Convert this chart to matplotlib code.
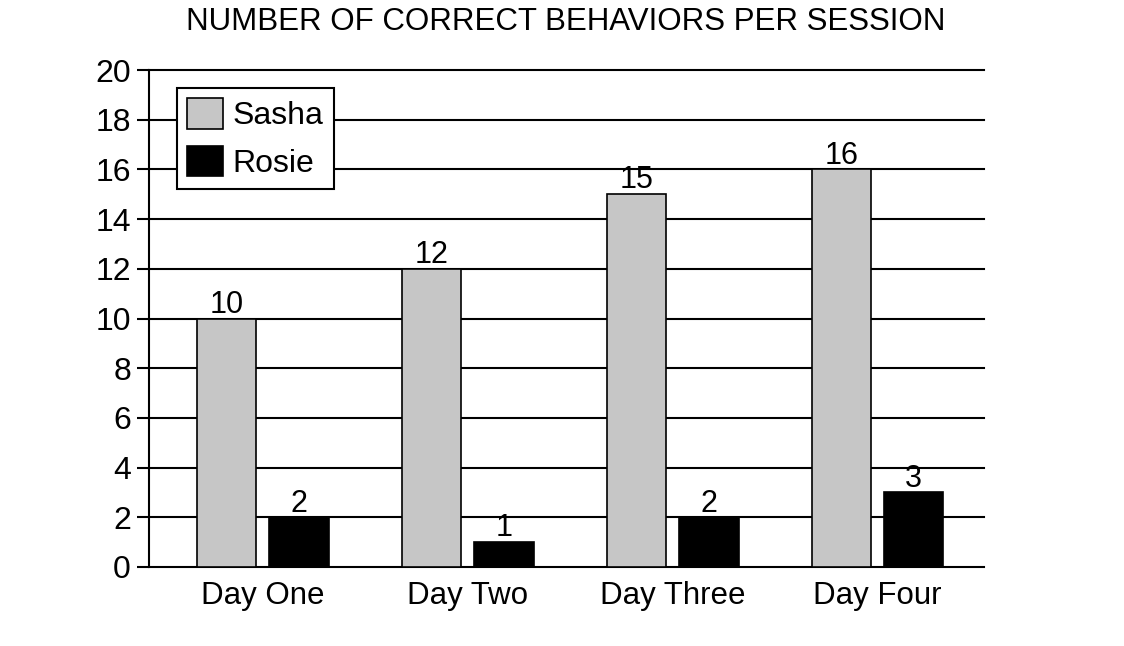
import matplotlib
matplotlib.use("Agg")
import matplotlib.pyplot as plt
import numpy as np

plt.rcParams['font.family'] = ['Liberation Sans', 'DejaVu Sans']

categories = ["Day One", "Day Two", "Day Three", "Day Four"]
sasha = [10, 12, 15, 16]
rosie = [2, 1, 2, 3]
yticks = [0, 2, 4, 6, 8, 10, 12, 14, 16, 18, 20]

fig = plt.figure(figsize=(11.24, 6.46), dpi=100)
ax = fig.add_axes([149/1124, 1-567/646, (984-149)/1124, (567-70)/646])

x = np.arange(len(categories))
w = 0.29
off = 0.177
b1 = ax.bar(x - off, sasha, w, color="#c6c6c6", edgecolor="black", linewidth=1.2, zorder=3, label="Sasha")
b2 = ax.bar(x + off, rosie, w, color="black", edgecolor="black", linewidth=1.2, zorder=3, label="Rosie")

for rect, v in zip(list(b1) + list(b2), sasha + rosie):
    ax.text(rect.get_x() + rect.get_width()/2, v - 0.05, str(v), ha="center", va="bottom", fontsize=22)

ax.set_ylim(0, 20)
ax.set_xlim(-0.556, 3.52)
ax.set_yticks(yticks)
ax.set_yticklabels([str(t) for t in yticks], fontsize=23)
ax.set_xticks(x)
ax.set_xticklabels(categories, fontsize=22.5)
ax.tick_params(axis='x', length=0, pad=10)
ax.tick_params(axis='y', length=9, width=1.5, pad=4)
ax.yaxis.grid(True, color="black", linewidth=1.5, zorder=0)
for gl in ax.yaxis.get_gridlines():
    gl.set_clip_on(False)
ax.set_axisbelow(True)
for s in ["top", "right", "bottom"]:
    ax.spines[s].set_visible(False)
ax.spines["left"].set_linewidth(1.5)

leg = ax.legend(loc="upper left", bbox_to_anchor=((177-149)/835, (567-88)/497), fontsize=23,
                frameon=True, fancybox=False, edgecolor="black", framealpha=1,
                handlelength=1.12, handleheight=1.1, handletextpad=0.3,
                borderpad=0.32, labelspacing=0.45, borderaxespad=0)
leg.get_frame().set_linewidth(1.5)
leg.set_zorder(5)

fig.text(566/1124, 1-22/646, "NUMBER OF CORRECT BEHAVIORS PER SESSION", ha="center", va="center", fontsize=22.5)

fig.savefig("out.png", dpi=100)
